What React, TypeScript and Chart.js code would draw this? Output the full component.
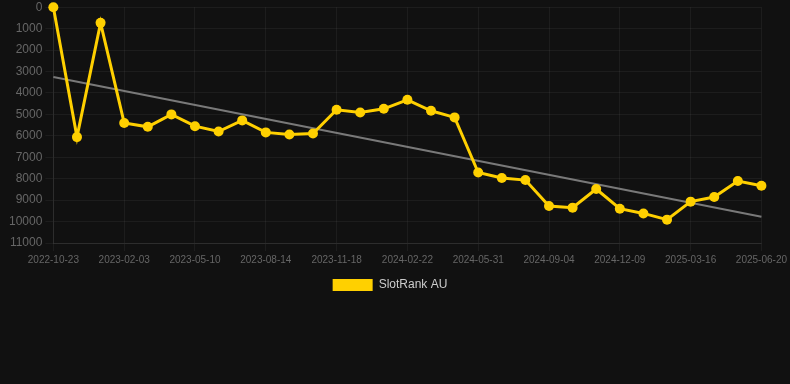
import React, { useEffect, useRef } from "react";
import { Chart, registerables } from "chart.js";

Chart.register(...registerables);

const categories: string[] = [
  "2022-10-23", "2022-11-26", "2022-12-30", "2023-02-03", "2023-03-07", "2023-04-08",
  "2023-05-10", "2023-06-11", "2023-07-13", "2023-08-14", "2023-09-15", "2023-10-17",
  "2023-11-18", "2023-12-20", "2024-01-21", "2024-02-22", "2024-03-26", "2024-04-28",
  "2024-05-31", "2024-07-02", "2024-08-03", "2024-09-04", "2024-10-06", "2024-11-07",
  "2024-12-09", "2025-01-10", "2025-02-12", "2025-03-16", "2025-04-17", "2025-05-19",
  "2025-06-20",
];

const slotRankAU: number[] = [
  0, 6060, 730, 5400, 5580, 5000, 5550, 5800, 5280, 5840, 5935, 5890,
  4785, 4910, 4740, 4320, 4830, 5140, 7710, 7970, 8065, 9275, 9350, 8480,
  9400, 9620, 9910, 9070, 8855, 8110, 8330,
];

const trendStart = 3258;
const trendEnd = 9774;

const yTicks: number[] = [0, 1000, 2000, 3000, 4000, 5000, 6000, 7000, 8000, 9000, 10000, 11000];

export default function App() {
  const ref = useRef<HTMLCanvasElement | null>(null);

  useEffect(() => {
    document.body.style.margin = "0";
    document.body.style.background = "#111111";
    const trend: (number | null)[] = categories.map((_, i) =>
      i === 0 ? trendStart : i === categories.length - 1 ? trendEnd : null
    );
    const defaultLabels = Chart.defaults.plugins.legend.labels.generateLabels;
    const chart = new Chart(ref.current!, {
      type: "line",
      data: {
        labels: categories,
        datasets: [
          {
            label: "SlotRank AU",
            data: slotRankAU,
            borderColor: "#FFD000",
            backgroundColor: "#FFD000",
            borderWidth: 3,
            pointRadius: 5,
            pointBorderWidth: 0,
            pointBackgroundColor: "#FFD000",
            pointBorderColor: "#FFD000",
            tension: 0,
            order: 1,
          },
          {
            label: "trend",
            data: trend,
            borderColor: "rgba(140,140,140,0.85)",
            borderWidth: 2,
            pointRadius: 0,
            spanGaps: true,
            order: 2,
          },
        ],
      },
      options: {
        animation: false,
        responsive: true,
        maintainAspectRatio: false,
        layout: { padding: { left: 6, right: 16, top: 0 } },
        clip: false as any,
        plugins: {
          tooltip: { enabled: false },
          legend: {
            position: "bottom",
            labels: {
              color: "#cccccc",
              boxWidth: 40,
              boxHeight: 12,
              font: { size: 12, family: "Liberation Sans, Arial, sans-serif" },
              filter: (item) => item.text !== "trend",
              generateLabels: (c) =>
                defaultLabels(c).map((l) => ({ ...l, lineWidth: 0, strokeStyle: "rgba(0,0,0,0)" })),
            },
          },
        },
        scales: {
          x: {
            grid: { color: "rgba(255,255,255,0.05)" },
            border: { color: "rgba(255,255,255,0.08)" },
            ticks: {
              color: "#666666",
              maxRotation: 0,
              autoSkip: true,
              maxTicksLimit: 11,
              font: { size: 10, family: "Liberation Sans, Arial, sans-serif" },
            },
          },
          y: {
            reverse: true,
            min: yTicks[0],
            max: yTicks[yTicks.length - 1],
            grid: { color: "rgba(255,255,255,0.05)" },
            border: { color: "rgba(255,255,255,0.08)" },
            afterBuildTicks: (axis) => {
              axis.ticks = yTicks.map((v) => ({ value: v }));
            },
            ticks: {
              color: "#666666",
              font: { size: 12, family: "Liberation Sans, Arial, sans-serif" },
              callback: (v) => String(v),
            },
          },
        },
      },
    });
    return () => chart.destroy();
  }, []);

  return (
    <div style={{ width: 790, height: 304, marginTop: -3, position: "relative" }}>
      <canvas ref={ref} />
    </div>
  );
}
